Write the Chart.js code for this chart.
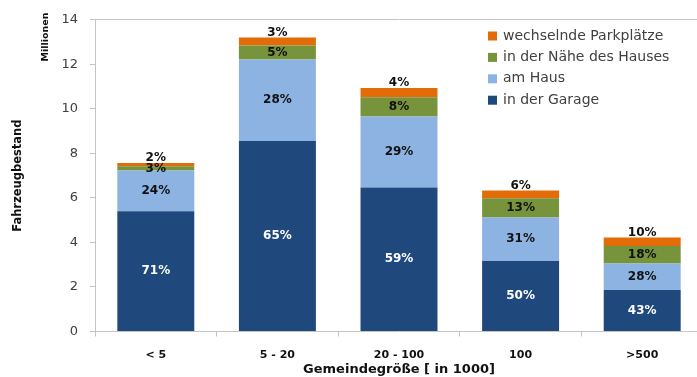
<!DOCTYPE html>
<html>
<head>
<meta charset="utf-8">
<script src="https://cdn.jsdelivr.net/npm/chart.js@4.4.1/dist/chart.umd.min.js"></script>
<style>
  html, body { margin: 0; padding: 0; background: #fff; overflow: hidden; }
  #wrap { width: 705px; height: 377px; }
</style>
</head>
<body>
<div id="wrap"><canvas id="chart" width="705" height="377"></canvas></div>
<script>
// Fahrzeugbestand nach Gemeindegröße (Millionen)
const categories = ['< 5', '5 - 20', '20 - 100', '100', '>500'];
const garage     = [5.40, 8.56, 6.47, 3.17, 1.86];
const amHaus     = [1.83, 3.66, 3.19, 1.95, 1.19];
const naehe      = [0.19, 0.63, 0.86, 0.87, 0.79];
const wechselnd  = [0.15, 0.35, 0.42, 0.34, 0.38];

const pctGarage    = [71, 65, 59, 50, 43];
const pctAmHaus    = [24, 28, 29, 31, 28];
const pctNaehe     = [3, 5, 8, 13, 18];
const pctWechselnd = [2, 3, 4, 6, 10];

const yMin = 0, yMax = 14, yStep = 2;

const FONT = '"DejaVu Sans", sans-serif';
const COLORS = {
  garage:    '#1F497D',
  amHaus:    '#8DB3E2',
  naehe:     '#77933C',
  wechselnd: '#E36C09',
  axis:      '#c4c4c4',
  text:      '#404040',
};

// percent labels inside the segments (orange ones sit just above the bar)
const segmentLabels = {
  id: 'segmentLabels',
  afterDatasetsDraw(chart) {
    const ctx = chart.ctx;
    ctx.save();
    ctx.font = 'bold 12px ' + FONT;
    ctx.textAlign = 'center';
    ctx.textBaseline = 'middle';
    chart.data.datasets.forEach((ds, i) => {
      chart.getDatasetMeta(i).data.forEach((bar, j) => {
        const y = ds.labelAbove ? bar.y - 5 : (bar.y + bar.base) / 2;
        ctx.fillStyle = ds.labelColor;
        ctx.fillText(ds.pct[j] + '%', bar.x, y);
      });
    });
    ctx.restore();
  }
};

// legend in the upper right, reversed order, plus the "Millionen" unit note
const extras = {
  id: 'extras',
  afterDraw(chart) {
    const ctx = chart.ctx;
    ctx.save();
    ctx.font = '14px ' + FONT;
    ctx.textBaseline = 'middle';
    ctx.textAlign = 'left';
    const list = chart.data.datasets.slice().reverse();
    list.forEach((ds, k) => {
      const y = 36 + k * 21.4;
      ctx.fillStyle = ds.backgroundColor;
      ctx.fillRect(488, y - 4.5, 9, 9);
      ctx.fillStyle = COLORS.text;
      ctx.fillText(ds.label, 503, y);
    });

    ctx.translate(46, 37);
    ctx.rotate(-Math.PI / 2);
    ctx.textAlign = 'center';
    ctx.font = 'bold 9.5px ' + FONT;
    ctx.fillStyle = '#111';
    ctx.fillText('Millionen', 0, 0);
    ctx.restore();
  }
};

function mkSet(label, data, color, pct, labelColor, labelAbove) {
  return {
    label, data, pct, labelColor, labelAbove,
    backgroundColor: color,
    borderWidth: 0,
    categoryPercentage: 1,
    barPercentage: 0.633,
  };
}

new Chart(document.getElementById('chart'), {
  type: 'bar',
  data: {
    labels: categories,
    datasets: [
      mkSet('in der Garage', garage, COLORS.garage, pctGarage, '#ffffff', false),
      mkSet('am Haus', amHaus, COLORS.amHaus, pctAmHaus, '#111', false),
      mkSet('in der Nähe des Hauses', naehe, COLORS.naehe, pctNaehe, '#111', false),
      mkSet('wechselnde Parkplätze', wechselnd, COLORS.wechselnd, pctWechselnd, '#111', true),
    ]
  },
  options: {
    responsive: false,
    animation: false,
    layout: { padding: { top: 11, right: 2, bottom: 0, left: 0 } },
    plugins: {
      legend: { display: false },
      tooltip: { enabled: false },
    },
    scales: {
      x: {
        stacked: true,
        afterFit: s => { s.height = 45.5; },
        border: { color: COLORS.axis, width: 1 },
        grid: {
          offset: true,
          drawOnChartArea: false,
          tickLength: 5,
          tickColor: COLORS.axis,
        },
        ticks: {
          color: '#111',
          padding: 12,
          font: { family: FONT, size: 11, weight: 'bold' },
        },
        title: {
          display: true,
          text: 'Gemeindegröße [ in 1000]',
          color: '#111',
          padding: { top: 0, bottom: 0 },
          font: { family: FONT, size: 13, weight: 'bold' },
        },
      },
      y: {
        stacked: true,
        min: yMin,
        max: yMax,
        afterFit: s => { s.width = 95; },
        border: { color: COLORS.axis, width: 1 },
        grid: {
          drawOnChartArea: true,
          color: c => (c.tick && c.tick.value === yMax ? COLORS.axis : 'rgba(0,0,0,0)'),
          tickLength: 5,
          tickColor: COLORS.axis,
        },
        ticks: {
          stepSize: yStep,
          color: COLORS.text,
          padding: 12,
          font: { family: FONT, size: 13 },
        },
        title: {
          display: true,
          text: 'Fahrzeugbestand',
          color: '#111',
          padding: { top: 11, bottom: 0 },
          font: { family: FONT, size: 11.5, weight: 'bold' },
        },
      },
    },
  },
  plugins: [segmentLabels, extras],
});
</script>
</body>
</html>
